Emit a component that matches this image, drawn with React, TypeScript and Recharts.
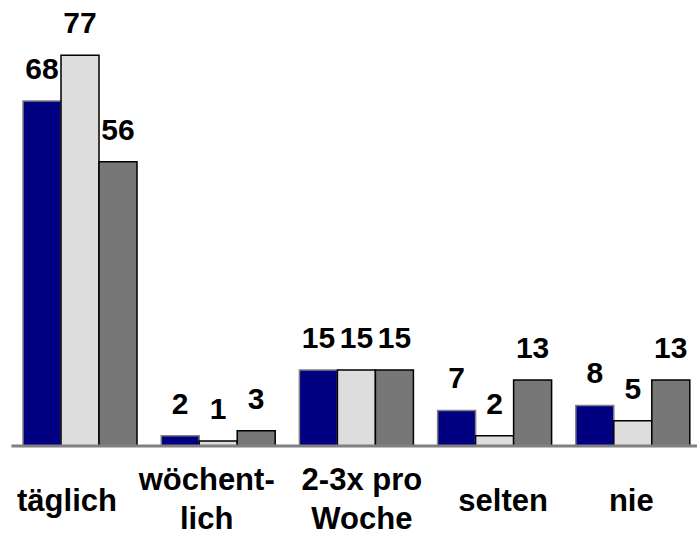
import React from 'react';
import { Bar, BarChart, LabelList, XAxis, YAxis } from 'recharts';

// ─── Data ────────────────────────────────────────────────────────────

const CATEGORIES = ['täglich', 'wöchent-|lich', '2-3x pro|Woche', 'selten', 'nie'];
const SERIES_A = [68, 2, 15, 7, 8];
const SERIES_B = [77, 1, 15, 2, 5];
const SERIES_C = [56, 3, 15, 13, 13];

// ─── Styles ──────────────────────────────────────────────────────────

const FONT = '"Liberation Sans", Arial, sans-serif';
// small horizontal nudges of the category labels, as in the original slide
const TICK_SHIFT = [-13.5, -12, 5, 8, -2];

const data = CATEGORIES.map((name, i) => ({
  name,
  a: SERIES_A[i],
  b: SERIES_B[i],
  c: SERIES_C[i],
}));

interface TickProps {
  x?: number;
  y?: number;
  index?: number;
  payload?: { value: string };
}

const CategoryTick: React.FC<TickProps> = ({ x, y, index, payload }) => {
  if (!payload || x == null || y == null) return null;
  const lines = payload.value.split('|');
  const cx = x + (TICK_SHIFT[index ?? 0] ?? 0);
  const baselines = lines.length === 1 ? [y + 65] : [y + 44, y + 83];
  return (
    <g>
      {lines.map((line, i) => (
        <text
          key={i}
          x={cx}
          y={baselines[i]}
          textAnchor="middle"
          fontSize={31}
          fontWeight="bold"
          fontFamily={FONT}
          fill="#000"
        >
          {line}
        </text>
      ))}
    </g>
  );
};

const labelProps = {
  position: 'top' as const,
  offset: 22,
  fill: '#000',
  fontSize: 30,
  fontWeight: 'bold',
  fontFamily: FONT,
};

export default function App() {
  return (
    <div
      style={{
        position: 'fixed',
        top: 0,
        left: 0,
        width: 697,
        height: 536,
        overflow: 'hidden',
        background: '#fff',
      }}
    >
      <BarChart
        width={697}
        height={536}
        data={data}
        margin={{ top: 40, right: -5.4, left: 11.4, bottom: 0 }}
        barCategoryGap="8.4%"
        barGap={0}
      >
        <XAxis
          dataKey="name"
          height={90}
          tickLine={false}
          tickSize={0}
          tickMargin={0}
          axisLine={{ stroke: '#808080', strokeWidth: 3 }}
          tick={<CategoryTick />}
          interval={0}
        />
        <YAxis hide domain={[0, 80]} />
        <Bar dataKey="a" fill="#000080" stroke="#808080" strokeWidth={1.5} isAnimationActive={false}>
          <LabelList dataKey="a" {...labelProps} />
        </Bar>
        <Bar dataKey="b" fill="#DDDDDD" stroke="#000" strokeWidth={1.5} isAnimationActive={false}>
          <LabelList dataKey="b" {...labelProps} />
        </Bar>
        <Bar dataKey="c" fill="#777777" stroke="#000" strokeWidth={1.5} isAnimationActive={false}>
          <LabelList dataKey="c" {...labelProps} />
        </Bar>
      </BarChart>
    </div>
  );
}
